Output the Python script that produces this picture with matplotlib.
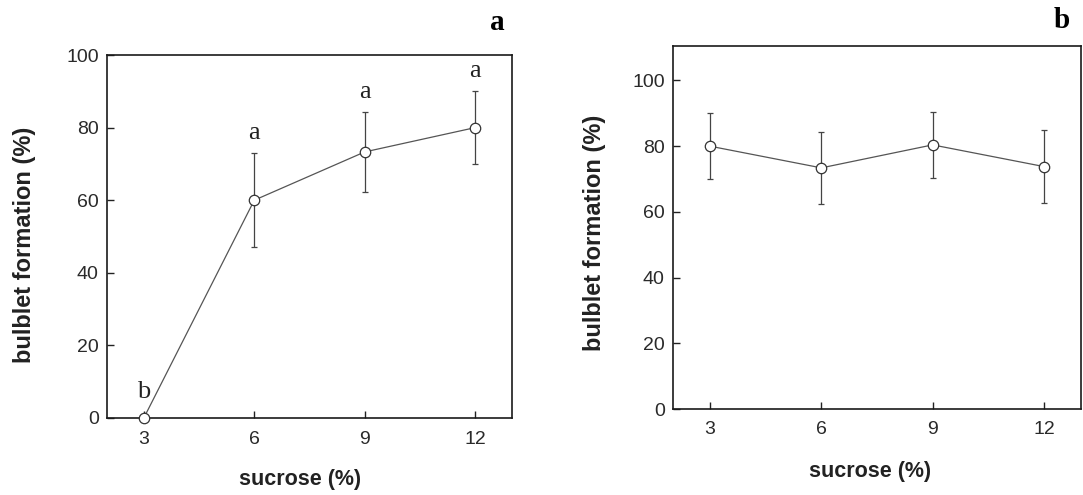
import matplotlib
matplotlib.use("Agg")
import matplotlib.pyplot as plt

sucrose = [3, 6, 9, 12]
xticks = [3, 6, 9, 12]

bulblet_a = [0, 60, 73.3, 80]
err_a = [0, 13, 11, 10]
letters_a = ["b", "a", "a", "a"]

bulblet_b = [80, 73.4, 80.4, 73.8]
err_b = [10, 11, 10, 11]

yticks = [0, 20, 40, 60, 80, 100]

plt.rcParams['font.family'] = ['Liberation Sans', 'DejaVu Sans']
DPI = 100
W, H = 1083, 495
fig = plt.figure(figsize=(W / DPI, H / DPI), dpi=DPI)

def ax_at(l, t, r, b):
    return fig.add_axes([l / W, 1 - b / H, (r - l) / W, (b - t) / H])

ax1 = ax_at(107, 55, 512, 418)
ax2 = ax_at(673, 46, 1081, 409)

line_col = '#555555'
txt_col = '#2a2a2a'

def style(ax, ylim):
    ax.set_xlim(2, 13)
    ax.set_ylim(*ylim)
    ax.set_xticks(xticks)
    ax.set_yticks(yticks)
    ax.tick_params(direction='in', length=5, width=1, colors='#222222',
                   labelsize=14, labelcolor=txt_col, top=False, right=False)
    ax.tick_params(axis='x', pad=9)
    ax.tick_params(axis='y', pad=6)
    for s in ax.spines.values():
        s.set_linewidth(1.2)
        s.set_color('#1a1a1a')

def labels(xc, yc_x, yc_y, xl_y):
    fig.text(xc / W, 1 - xl_y / H, 'sucrose (%)', fontsize=15.5, fontweight='bold',
             color='#222222', ha='center', va='center')
    fig.text(yc_x / W, 1 - yc_y / H, 'bulblet formation (%)', fontsize=17, fontweight='bold',
             color='#222222', ha='center', va='center', rotation=90)

def draw(ax, y, e):
    ax.errorbar(sucrose, y, yerr=e, fmt='-', color=line_col, lw=0.9,
                ecolor='#444444', elinewidth=0.9, capsize=2.5, capthick=0.9, zorder=2)
    ax.plot(sucrose, y, 'o', ms=7.5, mfc='white', mec='#333333', mew=0.9, zorder=3, clip_on=False)

draw(ax1, bulblet_a, err_a)
style(ax1, (0, 100))
labels(300, 25, 245, 480)
for xv, yv, ev, lab in zip(sucrose, bulblet_a, err_a, letters_a):
    off = 7.2 if ev == 0 else 5.5
    ax1.text(xv, yv + ev + off, lab, ha='center', va='center', fontsize=19,
             family='Liberation Serif', color='#222222')

draw(ax2, bulblet_b, err_b)
style(ax2, (0, 110.5))
labels(870, 594, 233, 472)

fig.text(497 / W, 1 - 23 / H, 'a', fontsize=21, fontweight='bold', family='Liberation Serif',
         ha='center', va='center')
fig.text(1062 / W, 1 - 20 / H, 'b', fontsize=21, fontweight='bold', family='Liberation Serif',
         ha='center', va='center')

fig.savefig('out.png', dpi=DPI, facecolor='white')
